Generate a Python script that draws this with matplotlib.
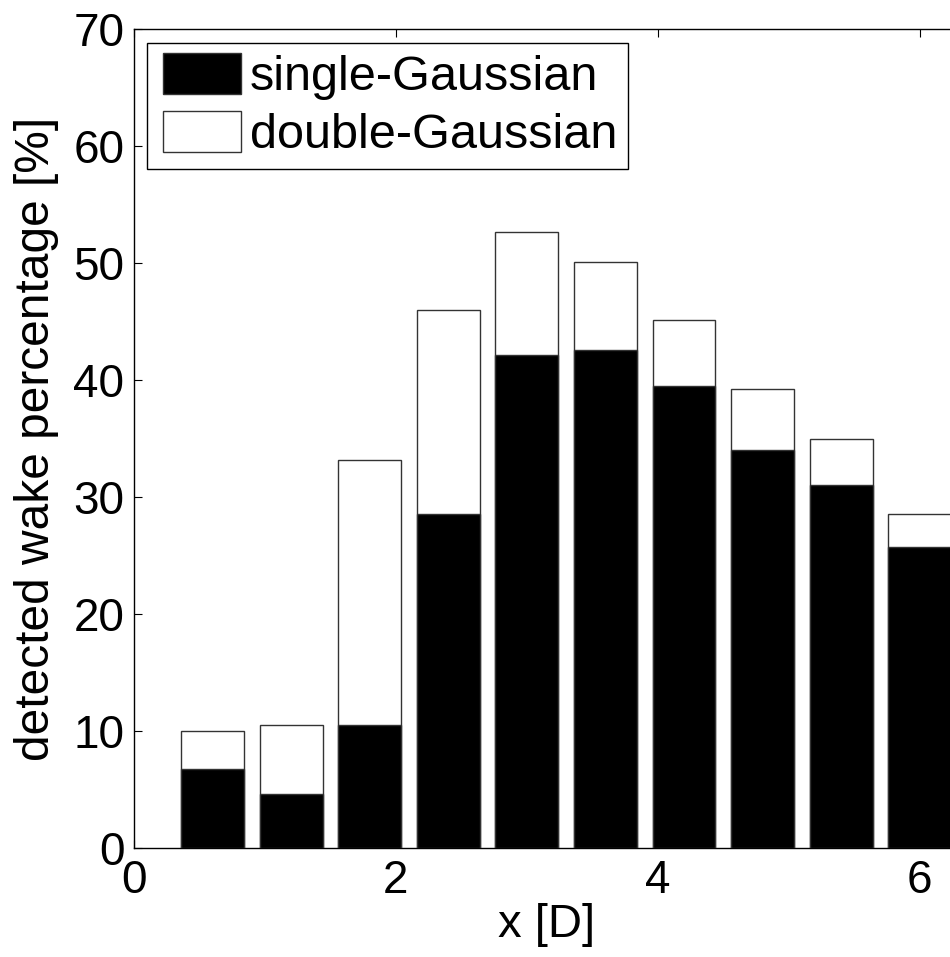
import numpy as np
import matplotlib
matplotlib.use('Agg')
import matplotlib.pyplot as plt
import matplotlib.patches as mpatches
from matplotlib.legend_handler import HandlerPatch

# bar centres along x [D] and heights in percent
x_pos = [0.6, 1.2, 1.8, 2.4, 3.0, 3.6, 4.2, 4.8, 5.4, 6.0]
single_gauss = [6.7, 4.6, 10.5, 28.5, 42.1, 42.6, 39.5, 34.0, 31.0, 25.7]
double_gauss = [10.0, 10.5, 33.2, 46.0, 52.7, 50.1, 45.1, 39.2, 35.0, 28.5]

plt.rcParams['font.family'] = ['Liberation Sans', 'DejaVu Sans']
plt.rcParams['font.size'] = 33

fig = plt.figure(figsize=(9.5, 9.57), dpi=100)
ax = fig.add_axes([134 / 950, 109.3 / 957, 825 / 950, 818.4 / 957])

w = 0.48
edge = '#333333'
ax.bar(x_pos, double_gauss, width=w, color='white', edgecolor=edge,
       linewidth=1.0, zorder=2)
ax.bar(x_pos, single_gauss, width=w, color='black', edgecolor=edge,
       linewidth=1.0, zorder=3)

ax.set_xlim(0, 6.3)
ax.set_ylim(0, 70)
ax.set_xticks([0, 2, 4, 6])
ax.set_yticks(np.arange(0, 71, 10))
ax.tick_params(direction='in', length=6, width=0.8, top=True, right=True)
ax.tick_params(axis='x', pad=8)
ax.tick_params(axis='y', pad=7)
for s in ax.spines.values():
    s.set_linewidth(1.0)

ax.set_xlabel('x [D]', labelpad=0, fontsize=34)
ax.set_ylabel('detected wake percentage [%]', labelpad=10, fontsize=34.5)


# legend patch pushed a bit right so the frame has more room on the left
def shifted_patch(legend, orig_handle, xdescent, ydescent, width, height, fontsize):
    off = 4
    return mpatches.Rectangle((-xdescent + off, -ydescent), width - off, height)


proxies = [mpatches.Patch(facecolor='black', edgecolor=edge, linewidth=1.0),
           mpatches.Patch(facecolor='white', edgecolor=edge, linewidth=1.0)]
leg = ax.legend(proxies, ['single-Gaussian', 'double-Gaussian'], loc='upper left',
                bbox_to_anchor=(147 / 950, 1 - 42.7 / 957),
                bbox_transform=fig.transFigure, borderaxespad=0,
                fancybox=False, framealpha=1, edgecolor='black',
                fontsize=35, handlelength=1.73, handleheight=0.93,
                handletextpad=0.18, borderpad=0.21, labelspacing=0.22,
                handler_map={mpatches.Patch: HandlerPatch(patch_func=shifted_patch)})
leg.get_frame().set_linewidth(1.0)

fig.savefig('out.png', dpi=100)
